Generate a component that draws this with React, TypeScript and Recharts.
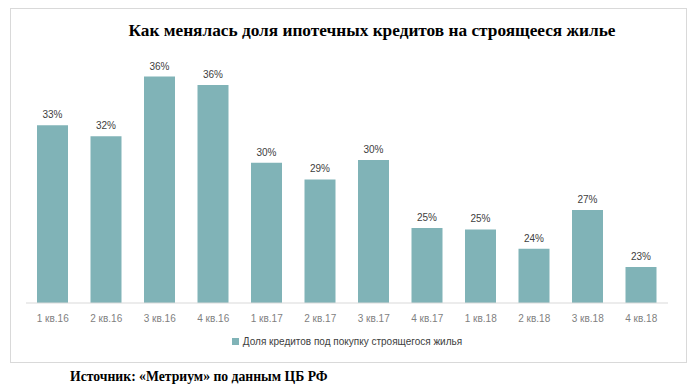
import { BarChart, Bar, XAxis, YAxis, LabelList, Legend } from 'recharts';

// quarters and share of mortgage loans for housing under construction, %
const quarters = ['1 кв.16', '2 кв.16', '3 кв.16', '4 кв.16', '1 кв.17', '2 кв.17', '3 кв.17', '4 кв.17', '1 кв.18', '2 кв.18', '3 кв.18', '4 кв.18'];
const shares = [32.8, 32.0, 36.3, 35.7, 30.1, 28.9, 30.3, 25.4, 25.3, 23.9, 26.7, 22.6];

const SERIES_NAME = 'Доля кредитов под покупку строящегося жилья';
const BAR_COLOR = '#80b3b7';

const data = quarters.map((q, i) => ({ name: q, value: shares[i] }));

const LegendContent = () => (
  <div style={{ display: 'flex', justifyContent: 'center', alignItems: 'center', height: 16, fontFamily: '"Liberation Sans", Arial, sans-serif', fontSize: 10, color: '#404040' }}>
    <span style={{ display: 'inline-block', width: 7, height: 7, background: BAR_COLOR, marginRight: 4 }} />
    <span>{SERIES_NAME}</span>
  </div>
);

export default function App() {
  return (
    <div style={{ position: 'absolute', left: 0, top: 0, width: 700, height: 389, background: '#fff' }}>
      {/* chart frame */}
      <div style={{ position: 'absolute', left: 10, top: 8, width: 675, height: 353, border: '1px solid #d9d9d9' }} />

      <div style={{ position: 'absolute', left: 0, top: 21, width: 744, textAlign: 'center', fontFamily: '"Liberation Serif", "Times New Roman", serif', fontWeight: 'bold', fontSize: 17.3, color: '#000' }}>
        Как менялась доля ипотечных кредитов на строящееся жилье
      </div>

      <div style={{ position: 'absolute', left: 0, top: 0 }}>
        <BarChart width={700} height={389} data={data} margin={{ top: 53, right: 32, left: 26, bottom: 40 }}>
          <YAxis hide domain={[20, 38]} />
          <XAxis
            dataKey="name"
            interval={0}
            tickLine={false}
            tickMargin={6}
            axisLine={{ stroke: '#d9d9d9' }}
            tick={{ fill: '#7f7f7f', fontSize: 10, fontFamily: '"Liberation Sans", Arial, sans-serif' }}
          />
          <Legend verticalAlign="bottom" content={<LegendContent />} />
          <Bar dataKey="value" name={SERIES_NAME} fill={BAR_COLOR} barSize={31} isAnimationActive={false}>
            <LabelList
              dataKey="value"
              position="top"
              offset={7}
              formatter={(v: number) => `${Math.round(v)}%`}
              style={{ fill: '#404040', fontSize: 10, fontFamily: '"Liberation Sans", Arial, sans-serif' }}
            />
          </Bar>
        </BarChart>
      </div>

      <div style={{ position: 'absolute', left: 70, top: 369, fontFamily: '"Liberation Serif", "Times New Roman", serif', fontWeight: 'bold', fontSize: 13.7, color: '#000' }}>
        Источник: «Метриум» по данным ЦБ РФ
      </div>
    </div>
  );
}
